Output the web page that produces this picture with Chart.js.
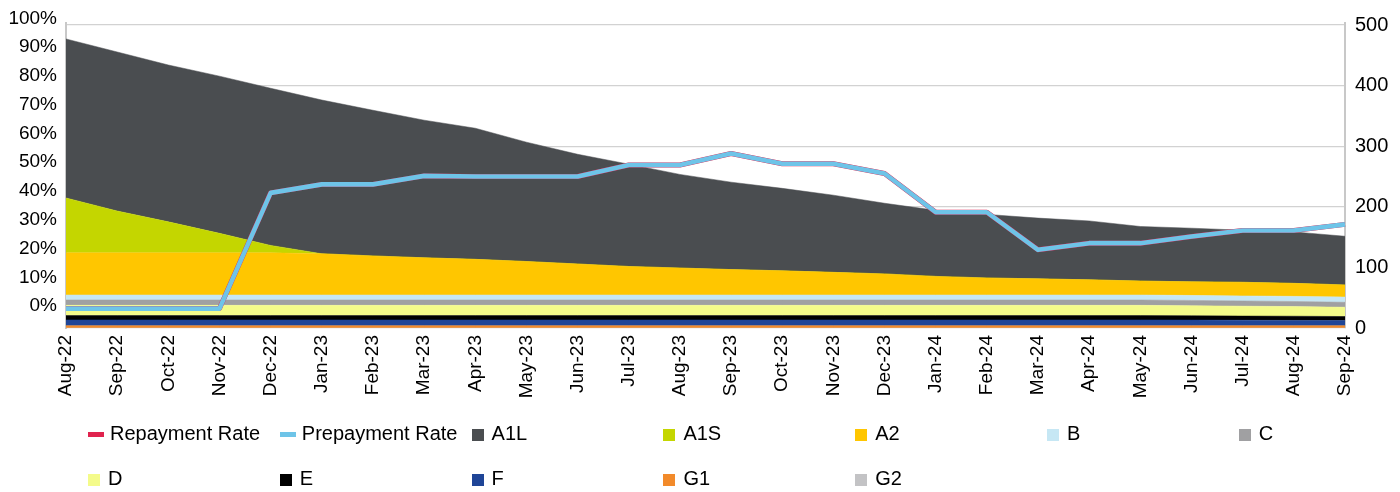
<!DOCTYPE html>
<html>
<head>
<meta charset="utf-8">
<script src="https://cdn.jsdelivr.net/npm/chart.js@4.4.1/dist/chart.umd.min.js"></script>
<style>
  html, body { margin: 0; padding: 0; background: #fff; }
  #wrap { position: relative; width: 1400px; height: 492px; font-family: "Liberation Sans", Arial, sans-serif; }
  #legend { position: absolute; left: 0; top: 0; width: 1400px; height: 492px; pointer-events: none; }
  .item { position: absolute; height: 24px; display: flex; align-items: center; font-size: 20px; color: #000; white-space: nowrap; }
  .box { width: 12px; height: 12px; margin-right: 8px; margin-top: 4px; }
  .ln { width: 16px; height: 5px; margin-right: 6px; margin-top: 3px; }
</style>
</head>
<body>
<div id="wrap">
  <canvas id="chart" width="1400" height="492"></canvas>
  <div id="legend"></div>
</div>
<script>
// ==============================
// DATA
// ==============================
const months = ["Aug-22","Sep-22","Oct-22","Nov-22","Dec-22","Jan-23","Feb-23","Mar-23","Apr-23","May-23",
  "Jun-23","Jul-23","Aug-23","Sep-23","Oct-23","Nov-23","Dec-23","Jan-24","Feb-24","Mar-24",
  "Apr-24","May-24","Jun-24","Jul-24","Aug-24","Sep-24"];

// rates (right axis)
const repaymentRate  = [32,32,32,32,223,237,237,251,250,250,250,269,269,288,271,271,255,191,191,129,140,140,151,161,161,171];
const prepaymentRate = [32,32,32,32,223,237,237,251,250,250,250,269,269,288,271,271,255,191,191,129,140,140,151,161,161,171];

// tranche balances (stacked areas)
const a1l = [51.3,51.3,50.6,50.7,50.7,49.6,47.0,44.4,42.3,38.5,35.4,33.0,30.2,28.2,26.6,24.9,22.8,21.3,20.5,19.6,19.0,17.6,17.3,16.8,16.6,15.7];
const a1s = [17.7,13.5,10.0,6.3,2.4,0,0,0,0,0,0,0,0,0,0,0,0,0,0,0,0,0,0,0,0,0];
const a2  = [13.6,13.6,13.6,13.6,13.6,13.3,12.6,12.0,11.5,10.8,10.0,9.2,8.7,8.2,7.8,7.3,6.8,6.0,5.5,5.2,4.9,4.5,4.4,4.4,4.2,3.9];
const b   = [1.6,1.6,1.6,1.6,1.6,1.6,1.6,1.6,1.6,1.6,1.6,1.6,1.6,1.6,1.6,1.6,1.6,1.6,1.6,1.6,1.6,1.6,1.6,1.6,1.65,1.7];
const c   = [1.75,1.75,1.75,1.75,1.75,1.75,1.75,1.75,1.75,1.75,1.75,1.75,1.75,1.75,1.75,1.75,1.75,1.75,1.75,1.75,1.75,1.75,1.7,1.7,1.65,1.6];
const d   = [3.3,3.3,3.3,3.3,3.3,3.3,3.3,3.3,3.3,3.3,3.3,3.3,3.3,3.3,3.3,3.3,3.3,3.3,3.3,3.3,3.3,3.3,3.25,3.2,3.1,3.0];
const e   = [1.4,1.4,1.4,1.4,1.4,1.4,1.4,1.4,1.4,1.4,1.4,1.4,1.4,1.4,1.4,1.4,1.4,1.4,1.4,1.4,1.4,1.4,1.4,1.35,1.35,1.3];
const f   = [1.85,1.85,1.85,1.85,1.85,1.85,1.85,1.85,1.85,1.85,1.85,1.85,1.85,1.85,1.85,1.85,1.85,1.85,1.85,1.85,1.85,1.85,1.8,1.75,1.7,1.65];
const g1  = [0.75,0.75,0.75,0.75,0.75,0.75,0.75,0.75,0.75,0.75,0.75,0.75,0.75,0.75,0.75,0.75,0.75,0.75,0.75,0.75,0.75,0.75,0.75,0.75,0.75,0.75];
const g2  = [0,0,0,0,0,0,0,0,0,0,0,0,0,0,0,0,0,0,0,0,0,0,0,0,0,0];

const leftTicks  = [0,10,20,30,40,50,60,70,80,90,100];
const rightTicks = [0,100,200,300,400,500];

// bottom-to-top stacking order
const tranches = [
  { label: "G2",  data: g2,  color: "#c3c3c5" },
  { label: "G1",  data: g1,  color: "#f28a2a" },
  { label: "F",   data: f,   color: "#1f4597" },
  { label: "E",   data: e,   color: "#000000" },
  { label: "D",   data: d,   color: "#f4fb8a" },
  { label: "C",   data: c,   color: "#a0a0a2" },
  { label: "B",   data: b,   color: "#c6e7f4" },
  { label: "A2",  data: a2,  color: "#ffc600" },
  { label: "A1S", data: a1s, color: "#c4d600" },
  { label: "A1L", data: a1l, color: "#4a4d50" }
];

const FONT = { family: "'Liberation Sans', Arial, sans-serif", size: 19 };

// ==============================
// CHART
// ==============================
const datasets = tranches.map((t, i) => ({
  type: "line",
  label: t.label,
  data: t.data,
  yAxisID: "yArea",
  stack: "pool",
  backgroundColor: t.color,
  borderColor: t.color,
  borderWidth: 0.5,
  pointRadius: 0,
  tension: 0,
  fill: i === 0 ? "origin" : "-1",
  order: 0
}));

datasets.push({
  type: "line", label: "Repayment Rate", data: repaymentRate, yAxisID: "yR",
  borderColor: "#e0234e", borderWidth: 5, pointRadius: 0, tension: 0, fill: false,
  borderJoinStyle: "round", order: -1
});
datasets.push({
  type: "line", label: "Prepayment Rate", data: prepaymentRate, yAxisID: "yR",
  borderColor: "#6ec4e8", borderWidth: 4.6, pointRadius: 0, tension: 0, fill: false,
  borderJoinStyle: "round", order: -2
});

// chart area runs from y=23 to y=327.5; the 100% label sits just above it
const chart = new Chart(document.getElementById("chart").getContext("2d"), {
  type: "line",
  data: { labels: months, datasets },
  options: {
    responsive: false,
    animation: false,
    layout: { padding: { top: 23, bottom: 84, left: 0, right: 0 } },
    plugins: { legend: { display: false }, tooltip: { enabled: false } },
    scales: {
      x: {
        offset: false,
        grid: { display: false, drawTicks: false },
        border: { display: false },
        ticks: { autoSkip: false, maxRotation: 90, minRotation: 90, padding: 7, color: "#000", font: FONT },
        afterFit: s => { s.height = 80; }
      },
      y: {
        position: "left",
        min: -7.6, max: 98.4,
        grid: { display: false, drawTicks: false },
        border: { display: true, color: "#c8c8c8", width: 2 },
        ticks: { color: "#000", font: FONT, padding: 9, callback: v => v + "%" },
        afterBuildTicks: s => { s.ticks = leftTicks.map(v => ({ value: v })); },
        afterFit: s => { s.width = 66; }
      },
      yR: {
        position: "right",
        min: 0, max: 503.3,
        grid: { display: true, color: "#d2d2d2", lineWidth: 1.3, drawTicks: false },
        border: { display: true, color: "#c8c8c8", width: 2 },
        ticks: { color: "#000", font: { family: FONT.family, size: 20 }, padding: 10 },
        afterBuildTicks: s => { s.ticks = rightTicks.map(v => ({ value: v })); },
        afterFit: s => { s.width = 55; }
      },
      yArea: {
        display: false,
        stacked: true,
        min: 0, max: 98.4
      }
    }
  }
});

// ==============================
// LEGEND (grid like the original)
// ==============================
const legendItems = [
  { label: "Repayment Rate", color: "#e0234e", line: true },
  { label: "Prepayment Rate", color: "#6ec4e8", line: true },
  ...tranches.slice().reverse().map(t => ({ label: t.label, color: t.color, line: false }))
];

const legend = document.getElementById("legend");
legendItems.forEach((it, i) => {
  const row = Math.floor(i / 7), col = i % 7;
  const el = document.createElement("div");
  el.className = "item";
  el.style.left = (88 + col * 191.8) + "px";
  el.style.top = (row === 0 ? 421 : 466) + "px";
  el.innerHTML = `<span class="${it.line ? "ln" : "box"}" style="background:${it.color}"></span>${it.label}`;
  legend.appendChild(el);
});
</script>
</body>
</html>
